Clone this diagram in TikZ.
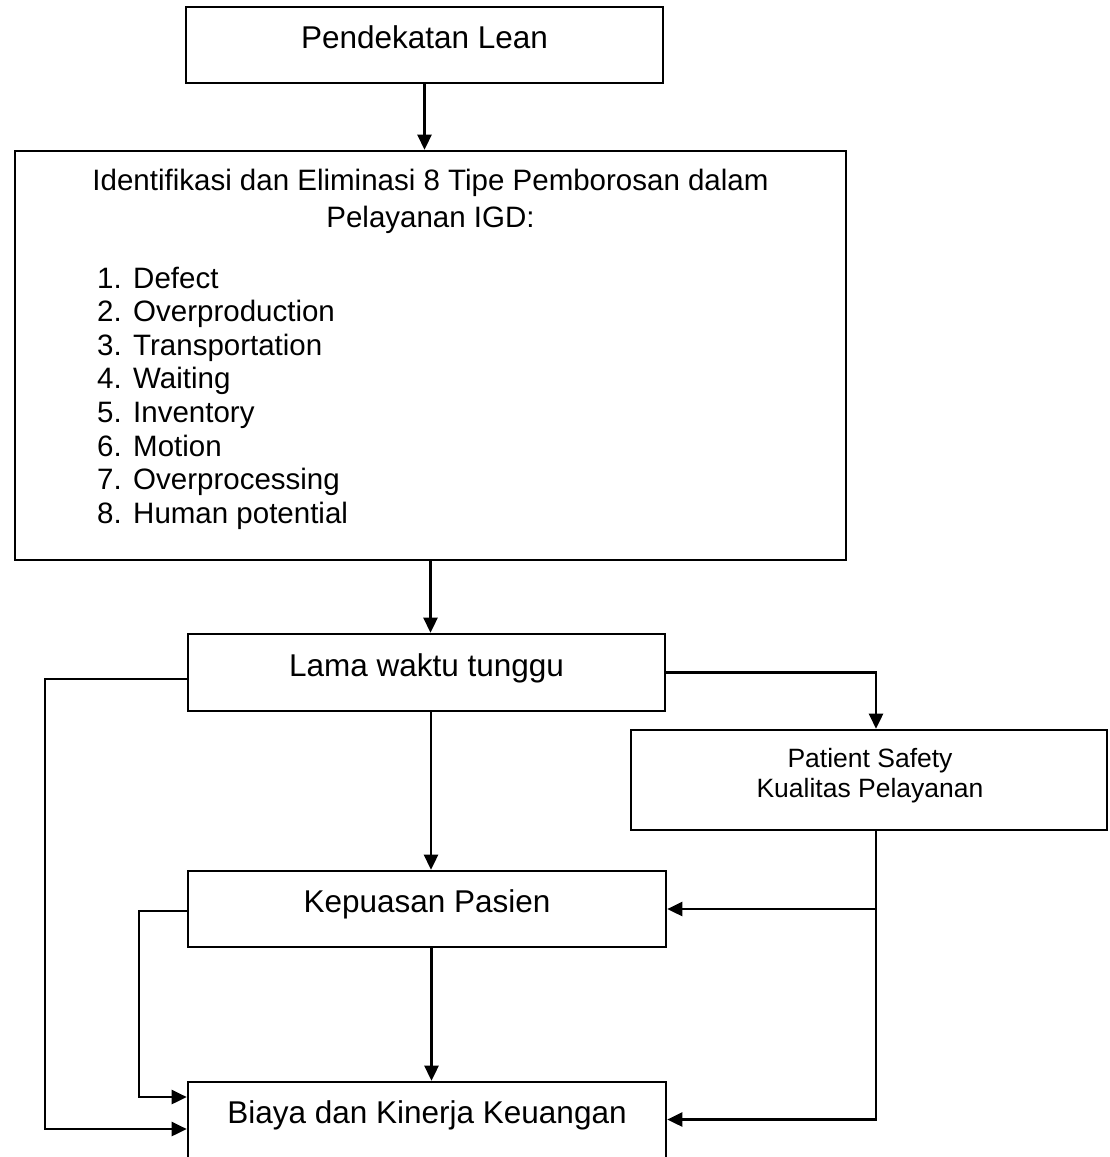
\documentclass[tikz,border=0pt]{standalone}
\usepackage{fontspec}
\setmainfont{Liberation Sans}
\usetikzlibrary{arrows.meta}
\begin{document}
\begin{tikzpicture}[x=1pt, y=-1pt,
  frame/.style={draw, line width=2.6pt, rectangle, inner sep=0pt},
  box/.style={frame, font=\fontsize{31.5}{38}\selectfont,
    text height=0.75em, text depth=0.05em},
  arr/.style={line width=2.6pt, -{Triangle[length=15pt,width=14pt]}},
  bodytext/.style={font=\fontsize{29.5}{36}\selectfont, inner sep=0pt},
  smalltext/.style={font=\fontsize{26.5}{30}\selectfont, align=center, inner sep=0pt}]
\useasboundingbox (0,0) rectangle (1109,1157);

% boxes
\node[box, minimum width=477pt, minimum height=76pt] (lean) at (424.5,45) {Pendekatan Lean};
\node[frame, minimum width=831pt, minimum height=409pt] (waste) at (430.5,355.5) {};
\node[box, minimum width=477pt, minimum height=77pt] (wait) at (426.5,672.5) {Lama waktu tunggu};
\node[frame, minimum width=476pt, minimum height=100pt] (safety) at (869,780) {};
\node[smalltext] (safetytext) at (870,776) {Patient Safety\\Kualitas Pelayanan};
\node[box, minimum width=478pt, minimum height=76pt] (satis) at (427,909) {Kepuasan Pasien};
\node[box, minimum width=478pt, minimum height=84pt] (cost) at (427,1124) {};
\node[box, minimum width=478pt, minimum height=75pt, draw=none] (costtext) at (427,1119.5)
  {Biaya dan Kinerja Keuangan};

% contents of the waste box
\node[bodytext, anchor=base] (title1) at (430.5,190) {Identifikasi dan Eliminasi 8 Tipe Pemborosan dalam};
\node[bodytext, anchor=base] (title2) at (430.5,227) {Pelayanan IGD:};
\foreach \n/\w [count=\i from 0] in {1/Defect, 2/Overproduction, 3/Transportation, 4/Waiting,
    5/Inventory, 6/Motion, 7/Overprocessing, 8/Human potential} {
  \node[bodytext, anchor=base west] (num\n) at (97,{288+33.6*\i}) {\n.};
  \node[bodytext, anchor=base west] (item\n) at (133,{288+33.6*\i}) {\w};
}

% corner points of the bypass lines
\coordinate (leftouter) at (45,679);
\coordinate (leftinner) at (139,911);
\coordinate (rightbus) at (876,830);

% connectors
\draw[arr] (lean.south) -- (lean.south |- waste.north);
\draw[arr] (waste.south) -- (waste.south |- wait.north);
\draw[arr] ([xshift=4.5pt]wait.south) -- ([xshift=4.5pt]wait.south |- satis.north);
\draw[arr] ([xshift=4.5pt]satis.south) -- ([xshift=4.5pt]satis.south |- cost.north);
\draw[arr] (wait.east) -| (rightbus |- safety.north);
\draw[arr] (wait.west |- leftouter) -- (leftouter) |- ([yshift=-9.5pt]costtext.west);
\draw[arr] (satis.west |- leftinner) -- (leftinner) |- ([yshift=22.5pt]costtext.west);
\draw[arr] (rightbus) |- (costtext.east);
\draw[arr] (rightbus |- satis.east) -- (satis.east);
\end{tikzpicture}
\end{document}
